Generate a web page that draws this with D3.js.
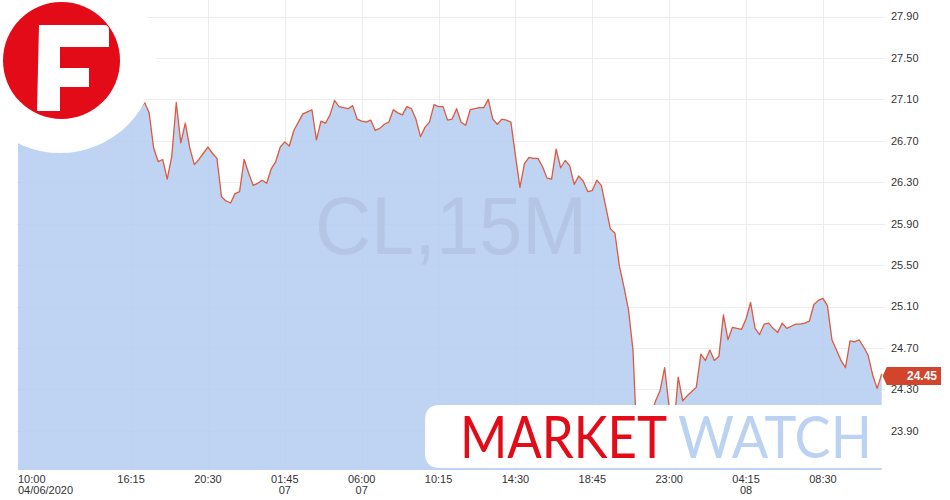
<!DOCTYPE html>
<html>
<head>
<meta charset="utf-8">
<script src="https://cdn.jsdelivr.net/npm/d3@7"></script>
<style>
html,body{margin:0;padding:0;background:#fff;}
svg{display:block;}
</style>
</head>
<body>
<svg id="chart" width="950" height="500"></svg>
<script>
// ---- data (15-minute closes, bar index 0 = 10:00 04/06/2020) ----
const prices = [
26.82,26.88,26.85,26.92,26.98,26.95,26.90,26.97,27.02,27.00,
26.94,26.89,26.93,26.99,27.04,27.01,26.96,26.92,26.98,27.03,
27.06,27.01,26.97,27.00,27.05,27.08,27.06,27.02,27.07,26.97,
26.63,26.50,26.52,26.33,26.55,27.07,26.68,26.87,26.63,26.47,
26.52,26.58,26.64,26.58,26.53,26.16,26.12,26.10,26.19,26.21,
26.52,26.39,26.27,26.29,26.32,26.29,26.43,26.50,26.64,26.69,
26.65,26.80,26.88,26.96,26.98,27.00,26.71,26.89,26.87,26.95,
27.09,27.03,27.02,27.01,27.04,26.91,26.89,26.88,26.90,26.80,
26.82,26.86,26.88,27.00,26.97,26.95,27.03,27.01,26.91,26.74,
26.83,26.88,27.05,27.03,27.03,26.90,26.91,27.01,26.88,26.85,
27.00,27.01,27.02,27.02,27.10,26.91,26.86,26.91,26.90,26.88,
26.56,26.25,26.48,26.54,26.53,26.53,26.45,26.34,26.33,26.62,
26.44,26.51,26.46,26.28,26.36,26.31,26.21,26.22,26.32,26.27,
26.06,25.85,25.81,25.49,25.29,25.07,24.68,23.67,23.76,23.91,
24.06,24.19,24.29,24.51,24.13,23.91,24.42,24.19,24.24,24.28,
24.32,24.64,24.58,24.68,24.58,24.62,25.02,24.78,24.90,24.89,
24.88,24.98,25.14,24.89,24.83,24.93,24.94,24.89,24.85,24.94,
24.89,24.91,24.93,24.93,24.94,24.96,25.12,25.16,25.18,25.11,
24.78,24.68,24.58,24.51,24.77,24.76,24.78,24.71,24.63,24.44,
24.31,24.45
];
const xTickIndex = [0, 25, 42, 59, 76, 93, 110, 127, 144, 161, 178];
const xTickLabels = ["10:00","16:15","20:30","01:45","06:00","10:15","14:30","18:45","23:00","04:15","08:30"];
const xTickSub = ["04/06/2020","","","07","07","","","","","08",""];
const yTicks = [27.90, 27.50, 27.10, 26.70, 26.30, 25.90, 25.50, 25.10, 24.70, 24.30, 23.90];
const symbolText = "CL,15M";
const lastPriceText = "24.45";

// ---- layout ----
const svg = d3.select("#chart");
const plotLeft = 18, plotRight = 881.7, plotTop = 16.5, plotBottom = 470, gridRight = 885;
const x = d3.scaleLinear().domain([0, prices.length - 1]).range([plotLeft, plotRight]);
const y = d3.scaleLinear().domain([23.90, 27.90]).range([430.9, plotTop]);

svg.append("rect").attr("width", 950).attr("height", 500).attr("fill", "#fff");

// gridlines (under the fill)
const grid = svg.append("g");
grid.selectAll("line.h").data(yTicks).enter().append("line")
  .attr("x1", 17).attr("x2", gridRight)
  .attr("y1", d => Math.round(y(d)) + 0.5).attr("y2", d => Math.round(y(d)) + 0.5)
  .attr("stroke", "#ededed").attr("stroke-width", 1);
grid.selectAll("line.v").data(xTickIndex.slice(1)).enter().append("line")
  .attr("x1", d => Math.round(x(d)) + 0.5).attr("x2", d => Math.round(x(d)) + 0.5)
  .attr("y1", 0).attr("y2", plotBottom)
  .attr("stroke", "#ededed").attr("stroke-width", 1);

// area
const area = d3.area().x((d, i) => x(i)).y0(plotBottom).y1(d => y(d));
svg.append("path").datum(prices).attr("d", area)
  .attr("fill", "#b6cdf1").attr("fill-opacity", 0.88);

// watermark
svg.append("text").attr("x", 451).attr("y", 254)
  .attr("text-anchor", "middle")
  .attr("font-family", "'Liberation Sans', Arial, sans-serif")
  .attr("font-size", 82)
  .attr("textLength", 272).attr("lengthAdjust", "spacingAndGlyphs")
  .attr("fill", "#8a96a8").attr("fill-opacity", 0.2)
  .text(symbolText);

// line
const line = d3.line().x((d, i) => x(i)).y(d => y(d));
svg.append("path").datum(prices).attr("d", line)
  .attr("fill", "none").attr("stroke", "#dc5a3e").attr("stroke-width", 1.3)
  .attr("stroke-linejoin", "round");

// y axis labels
svg.append("g").selectAll("text").data(yTicks).enter().append("text")
  .attr("x", 891).attr("y", d => y(d)).attr("dy", "0.35em")
  .attr("font-family", "'Liberation Sans', Arial, sans-serif")
  .attr("font-size", 11).attr("fill", "#333")
  .text(d => d.toFixed(2));

// x axis labels
const xg = svg.append("g")
  .attr("font-family", "'Liberation Sans', Arial, sans-serif")
  .attr("font-size", 11).attr("fill", "#333");
xTickIndex.forEach((idx, k) => {
  const first = k === 0;
  const t = xg.append("text")
    .attr("x", first ? plotLeft : x(idx))
    .attr("text-anchor", first ? "start" : "middle");
  t.append("tspan").attr("x", first ? plotLeft : x(idx)).attr("y", 483).text(xTickLabels[k]);
  if (xTickSub[k]) t.append("tspan").attr("x", first ? plotLeft : x(idx)).attr("y", 494).text(xTickSub[k]);
});

// last price label
const ly = y(prices[prices.length - 1]) + 2;
svg.append("path")
  .attr("d", `M${plotRight + 1},${ly} L${plotRight + 5},${ly - 9} H941 V${ly + 9} H${plotRight + 5} Z`)
  .attr("fill", "#d2442b");
svg.append("text").attr("x", 937).attr("y", ly).attr("dy", "0.36em")
  .attr("text-anchor", "end")
  .attr("font-family", "'Liberation Sans', Arial, sans-serif")
  .attr("font-size", 12).attr("font-weight", "bold").attr("fill", "#fff")
  .text(lastPriceText);

// logo
svg.append("circle").attr("cx", 60).attr("cy", 57).attr("r", 96).attr("fill", "#fff");
svg.append("circle").attr("cx", 61.5).attr("cy", 60.5).attr("r", 58.5).attr("fill", "#e30b17");
svg.append("path")
  .attr("d", "M39,25 H104 Q109,25 109,30 V47 H60 V68 H89 V87 H60 V111 H37 Z")
  .attr("fill", "#fff");

// market watch banner
svg.append("path")
  .attr("d", "M885,405 H440 Q425,405 425,420 V453 Q425,468 440,468 H885 Z")
  .attr("fill", "#fff");
svg.append("text").attr("x", 460).attr("y", 458)
  .attr("font-family", "Lato, 'Open Sans', sans-serif")
  .attr("font-size", 58)
  .attr("textLength", 207).attr("lengthAdjust", "spacingAndGlyphs")
  .attr("fill", "#e30b17").text("MARKET");
svg.append("text").attr("x", 678).attr("y", 458)
  .attr("font-family", "Lato, 'Open Sans', sans-serif")
  .attr("font-size", 58)
  .attr("textLength", 194).attr("lengthAdjust", "spacingAndGlyphs")
  .attr("fill", "#bcd2f2").text("WATCH");
</script>
</body>
</html>
